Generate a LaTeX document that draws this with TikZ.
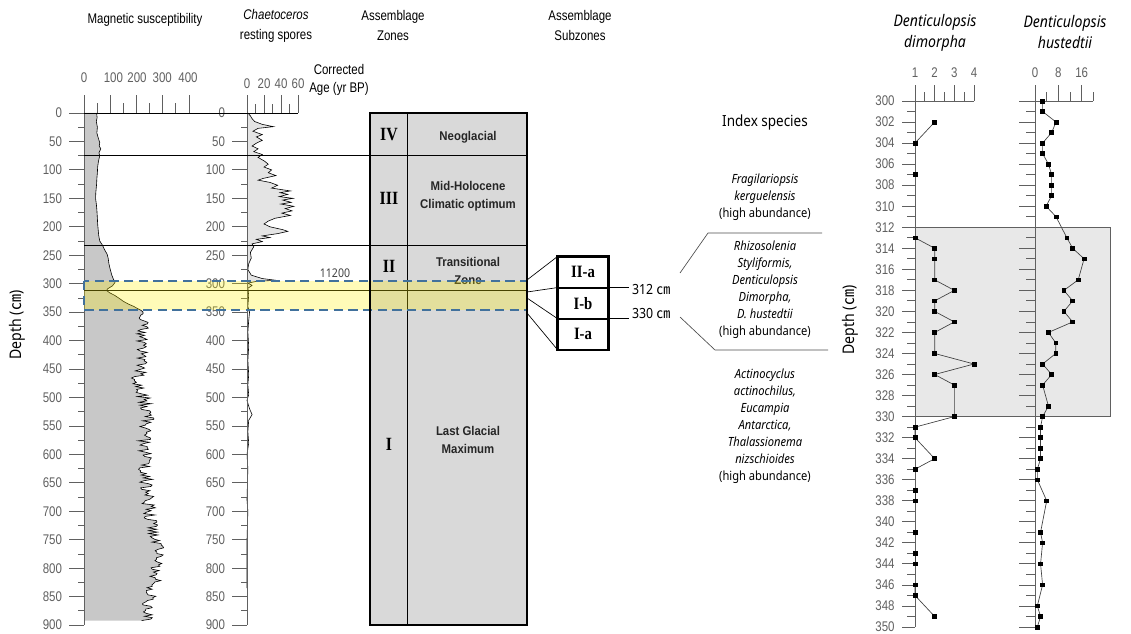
\documentclass[tikz,border=0pt]{standalone}
\usepackage{fontspec}
\setmainfont{Liberation Sans}
\newfontfamily\narrowfont[FakeStretch=0.82]{Liberation Sans}
\newfontfamily\gothicfont[FakeStretch=0.88]{Noto Sans}
\newfontfamily\zonenamefont[FakeStretch=0.9]{Liberation Sans}
\newfontfamily\numeralfont[FakeStretch=0.85]{Liberation Serif}
\newfontfamily\cjkfont{Noto Sans CJK KR}
\newcommand{\unitcm}{{\cjkfont ㎝}}
\usetikzlibrary{positioning, calc, plotmarks}

\definecolor{axisgray}{HTML}{606060}
\definecolor{susgray}{HTML}{C8C8C8}
\definecolor{sporegray}{HTML}{E4E4E4}
\definecolor{zonegray}{HTML}{D9D9D9}
\definecolor{peakgray}{HTML}{E8E8E8}
\definecolor{bandblue}{HTML}{41719C}

\tikzset{
    header/.style={font=\narrowfont\fontsize{10.5}{15}\selectfont, align=center, inner sep=0pt},
    ticklbl/.style={font=\narrowfont\fontsize{10.5}{12}\selectfont, text=axisgray, inner sep=0pt},
    axis/.style={draw=axisgray, line width=0.6pt},
    curve/.style={draw=black, line width=0.45pt},
    zonenum/.style={font=\numeralfont\bfseries\fontsize{14}{14}\selectfont, inner sep=0pt},
    zonename/.style={font=\zonenamefont\bfseries\fontsize{9.5}{13.5}\selectfont, align=center, inner sep=0pt, text=black!85},
    subzone/.style={draw, line width=0.6pt, minimum width=37.5pt, minimum height=22.75pt, inner sep=0pt, font=\numeralfont\bfseries\fontsize{13}{13}\selectfont},
    species/.style={font=\gothicfont\fontsize{9.5}{12.75}\selectfont, align=center, inner sep=0pt},
    cmlbl/.style={font=\gothicfont\fontsize{10.5}{12}\selectfont, inner sep=2pt},
    title/.style={font=\gothicfont\itshape\fontsize{12}{15.75}\selectfont, align=center, inner sep=0pt},
    depthlbl/.style={font=\gothicfont\fontsize{12}{14}\selectfont, rotate=90, inner sep=0pt},
    dataline/.style={draw=black!75, line width=0.5pt},
    sqmark/.style={mark=square*, mark size=1.4pt, mark options={fill=black, draw=black}},
}

\begin{document}
\begin{tikzpicture}[x=0.75pt, y=-0.75pt, line width=0.5pt,
    declare function={susT(\z)=222+62/(1+((\z-780)/70)^2)-25/(1+((\z-470)/15)^2)+20/(1+((\z-530)/25)^2);}]
\useasboundingbox (0,0) rectangle (1131,634);

% column headers
\node[header] (hSus) at (145,20) {Magnetic susceptibility};
\node[header] (hSpore) at (276,26) {\itshape Chaetoceros\\resting spores};
\node[header] (hZone) at (393,26) {Assemblage\\Zones};
\node[header] (hSub) at (580,26) {Assemblage\\Subzones};
\node[header, font=\narrowfont\fontsize{10.5}{14}\selectfont] (hAge) at (339,80) {Corrected\\Age (yr BP)};
\node[depthlbl] (depthL) at (17,325) {Depth (\unitcm)};

% zone column background
\fill[zonegray] (370,113) rectangle (527,625);

% magnetic susceptibility
\begin{scope}[shift={(84,113)}, x=0.196875pt, y=-0.42675pt]
    \def\suscurve{(48,0) -- (50,8) -- (47,15) -- (51,25) -- (49,35) -- (55,45) -- (60,52) -- (58,58)
        -- (64,63) -- (57,70) -- (60,75) -- (55,85) -- (52,95) -- (51,105) -- (49,115) -- (48,125)
        -- (45,140) -- (44,150) -- (47,160) -- (49,170) -- (51,185) -- (52,195) -- (54,205) -- (56,215)
        -- (60,225) -- (70,232) -- (78,240) -- (88,248) -- (92,255) -- (95,265) -- (100,275) -- (106,285)
        -- (112,292) -- (118,298) -- (108,304) -- (90,309) -- (86,312) -- (98,316) -- (115,320) -- (135,326)
        -- (150,331) -- (170,336) -- (190,340) -- (205,344) -- (218,347) -- (225,350)
        -- plot[variable=\t, domain=353:892, samples=216] ({susT(\t)+26*rand}, \t)}
    \pgfmathsetseed{11}
    \fill[susgray] \suscurve -- (0,892) -- (0,0) -- cycle;
    \pgfmathsetseed{11}
    \draw[curve] \suscurve;

    \draw[axis] (0,0) -- (0,900);
    \draw[axis] (0,0) -- (400,0);
    \foreach \d in {0,50,...,900}
        \draw[axis] (0,\d) -- ++(-11.25pt,0) node[ticklbl, anchor=east, xshift=-5pt] (sd\d) {\d};
    \foreach \d in {25,75,...,875}
        \draw[axis] (0,\d) -- ++(-4.5pt,0);
    \foreach \v in {0,100,...,400}
        \draw[axis] (\v,0) -- ++(0,13.5pt);
    \foreach \v in {50,150,...,350}
        \draw[axis] (\v,0) -- ++(0,7.5pt);
    \foreach \v/\p in {0/0,100/112,200/202,300/298,400/396}
        \node[ticklbl, yshift=26.25pt] (st\v) at (\p,0) {\v};
\end{scope}

% chaetoceros resting spores
\begin{scope}[shift={(247,113)}, x=0.6375pt, y=-0.42675pt]
    \def\sporecurve{(1,0) -- (4,5) -- (6,10) -- (9,15) -- (18,20) -- (31,24) -- (13,27) -- (7,32)
        -- (18,38) -- (11,42) -- (18,48) -- (11,53) -- (6,58) -- (13,63) -- (8,68) -- (18,73)
        -- (13,78) -- (21,85) -- (25,90) -- (20,95) -- (29,100) -- (25,105) -- (34,110) -- (19,115)
        -- (13,118) -- (27,122) -- (36,127) -- (29,132) -- (51,137) -- (39,140) -- (48,143) -- (38,147)
        -- (54,150) -- (42,153) -- (52,157) -- (40,160) -- (55,164) -- (45,168) -- (53,172) -- (41,176)
        -- (51,180) -- (33,185) -- (25,190) -- (20,195) -- (27,200) -- (42,205) -- (48,208) -- (36,212)
        -- (18,216) -- (27,219) -- (11,222) -- (18,226) -- (6,230) -- (8,235) -- (4,245) -- (5,255)
        -- (2,265) -- (1,275) -- (5,285) -- (18,291) -- (34,294) -- (11,296) -- (1,299) -- (6,303)
        -- (1,308) -- (2,320) -- (1,340) -- (3,350)}
    \fill[sporegray] \sporecurve -- (0,350) -- (0,0) -- cycle;
    \draw[curve] \sporecurve -- (2,365) -- (1,385) -- (2,410) -- (1,435) -- (2,460) -- (1,478)
        -- (2,495) -- (0,505) -- (3,520) -- (6,530) -- (2,540) -- (1,560) -- (2,580) -- (0,600)
        -- (1,625) -- (0,680) -- (1,700) -- (0,750) -- (0,835);

    \draw[axis] (0,0) -- (0,900);
    \draw[axis] (0,0) -- (60,0);
    \foreach \d in {0,50,...,900}
        \draw[axis] (0,\d) -- ++(-11.25pt,0) node[ticklbl, anchor=east, xshift=-5pt] (cd\d) {\d};
    \foreach \d in {25,75,...,875}
        \draw[axis] (0,\d) -- ++(-4.5pt,0);
    \foreach \v in {0,20,...,60}
        \draw[axis] (\v,0) -- ++(0,13.5pt) node[ticklbl, anchor=south, yshift=4.5pt] (ct\v) {\v};
    \foreach \v in {10,30,50}
        \draw[axis] (\v,0) -- ++(0,6.75pt);
\end{scope}

% zone boundaries
\draw (84,113) -- (298,113);
\draw (84,155) -- (527,155);
\draw (84,245) -- (527,245);
\draw (84,290) -- (527,290);
\draw (407,113) -- (407,625);

% zone labels
\node[zonenum] (zIV) at (389,135) {IV};
\node[zonename] (nIV) at (468,137) {Neoglacial};
\node[zonenum] (zIII) at (389,198) {III};
\node[zonename] (nIII) at (468,196) {Mid-Holocene\\Climatic optimum};
\node[zonenum] (zII) at (389,266) {II};
\node[zonename] (nII) at (468,271) {Transitional\\Zone};
\node[zonenum] (zI) at (389,444) {I};
\node[zonename] (nI) at (468,440) {Last Glacial\\Maximum};
\node[font=\gothicfont\fontsize{9}{10}\selectfont, text=black!75, inner sep=0pt] (age) at (335,273) {11200};

% highlighted interval
\fill[yellow, opacity=0.28] (84,281) rectangle (527,310);
\draw[bandblue, line width=1.4pt, dash pattern=on 7pt off 4pt] (84,281) rectangle (527,310);
\draw[line width=1.8pt] (370,113) rectangle (527,625);

% subzones
\node[subzone] (IIa) at (583,272) {II-a};
\node[subzone, below=0pt of IIa] (Ib) {I-b};
\node[subzone, below=0pt of Ib] (Ia) {I-a};
\draw[line width=1.8pt] (IIa.north west) rectangle (Ia.south east);

\coordinate (zb1) at (527,280);
\coordinate (zb2) at (527,292);
\coordinate (zb3) at (527,298);
\coordinate (zb4) at (527,313);
\draw (zb1) -- (IIa.north west);
\draw (zb2) -- (IIa.south west);
\draw (zb3) -- (Ib.south west);
\draw (zb4) -- (Ia.south west);

\node[cmlbl, anchor=west] (c312) at (629,290) {312 \unitcm};
\node[cmlbl, anchor=west] (c330) at (629,314) {330 \unitcm};
\draw (IIa.south east) -- (IIa.south east -| c312.west);
\draw (Ib.south east) -- (Ib.south east -| c330.west);

% index species
\node[species, font=\gothicfont\fontsize{11.5}{14}\selectfont] (idx) at (765,123) {Index species};
\node[species] (spF) at (765,197) {{\itshape Fragilariopsis}\\{\itshape kerguelensis}\\(high abundance)};
\node[species] (spR) at (765,289.5) {{\itshape Rhizosolenia}\\{\itshape Styliformis,}\\{\itshape Denticulopsis}\\{\itshape Dimorpha,}\\{\itshape D. hustedtii}\\(high abundance)};
\node[species] (spA) at (765,426.5) {{\itshape Actinocyclus}\\{\itshape actinochilus,}\\{\itshape Eucampia}\\{\itshape Antarctica,}\\{\itshape Thalassionema}\\{\itshape nizschioides}\\(high abundance)};

\coordinate (b1) at (680,273);
\coordinate (b2) at (708,233);
\coordinate (b3) at (822,233);
\coordinate (b4) at (680,317);
\coordinate (b5) at (715,350);
\coordinate (b6) at (828,350);
\draw[black!70] (b1) -- (b2) -- (b3);
\draw[black!70] (b4) -- (b5) -- (b6);

% right panels
\node[title] (tDim) at (935,32.5) {Denticulopsis\\dimorpha};
\node[title] (tHus) at (1065,32.5) {Denticulopsis\\hustedtii};
\node[depthlbl] (depthR) at (850,320) {Depth (\unitcm)};
\filldraw[fill=peakgray, draw=axisgray] (915,227.2) rectangle (1110,416.6);

\begin{scope}[shift={(895.33,-3055)}, x=14.7525pt, y=-7.89pt]
    \draw[axis] (1,300) -- (1,350);
    \draw[axis] (1,300) -- (4,300);
    \foreach \d in {300,302,...,350}
        \draw[axis] (1,\d) -- ++(-10pt,0) node[ticklbl, anchor=east, xshift=-5pt] (dd\d) {\d};
    \foreach \d in {301,303,...,349}
        \draw[axis] (1,\d) -- ++(-6pt,0);
    \foreach \v in {1,2,3,4}
        \draw[axis] (\v,300) -- ++(0,12pt) node[ticklbl, anchor=south, yshift=5pt] (dt\v) {\v};
    \foreach \v in {1.5,2.5,3.5}
        \draw[axis] (\v,300) -- ++(0,6.75pt);

    \draw[dataline] plot[sqmark] coordinates {(2,302) (1,304)};
    \draw[dataline] plot[sqmark] coordinates {(1,307)};
    \draw[dataline] plot[sqmark] coordinates {(1,313) (2,314) (2,315) (2,317) (3,318) (2,319) (2,320) (3,321)
        (2,322) (2,324) (4,325) (2,326) (3,327) (3,330) (1,331) (1,332) (2,334) (1,335)};
    \draw[dataline] plot[sqmark] coordinates {(1,337) (1,338)};
    \draw[dataline] plot[sqmark] coordinates {(1,341)};
    \draw[dataline] plot[sqmark] coordinates {(1,343) (1,344)};
    \draw[dataline] plot[sqmark] coordinates {(1,346) (1,347) (2,349)};
\end{scope}

\begin{scope}[shift={(1035,-3055)}, x=2.19pt, y=-7.89pt]
    \draw[axis] (0,300) -- (0,350);
    \draw[axis] (0,300) -- (20,300);
    \foreach \d in {300,302,...,350}
        \draw[axis] (0,\d) -- ++(-12pt,0);
    \foreach \d in {301,303,...,349}
        \draw[axis] (0,\d) -- ++(-7pt,0);
    \foreach \v in {0,8,16}
        \draw[axis] (\v,300) -- ++(0,12pt) node[ticklbl, anchor=south, yshift=5pt] (ht\v) {\v};
    \foreach \v in {4,12,20}
        \draw[axis] (\v,300) -- ++(0,6.75pt);

    \draw[dataline] plot[sqmark] coordinates {(2.6,300) (2.6,301) (7.2,302) (5.7,303) (2.6,304) (2.6,305)
        (4.6,306) (5.7,307) (5.7,308) (5.7,309) (3.8,310) (7.2,311) (10.9,313) (12.9,314) (16.8,315)
        (14.8,317) (9.9,318) (12.9,319) (9.9,320) (12.9,321) (4.6,322) (7.1,323) (7.1,324) (2.6,325)
        (5.7,326) (2.6,327) (4.6,329) (2.6,330) (1.9,331) (1.9,332) (1.9,333) (1.9,334) (0.8,335)
        (0.8,336) (4,338) (1.9,341) (2.6,342) (1.9,344) (2.6,346) (0.8,348) (1.9,349) (0.8,350)};
\end{scope}
\end{tikzpicture}
\end{document}
